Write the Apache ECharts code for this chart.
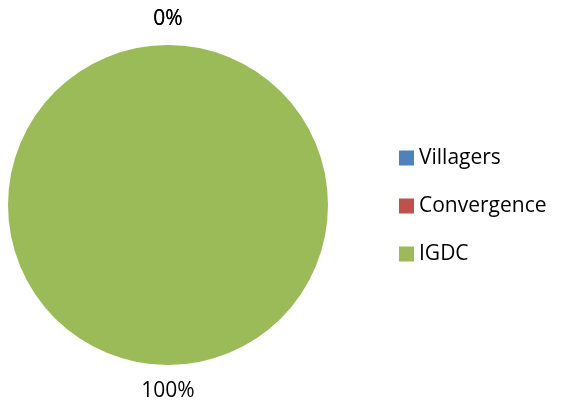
<!DOCTYPE html>
<html>
<head>
<meta charset="utf-8">
<script src="https://cdn.jsdelivr.net/npm/echarts@6/dist/echarts.min.js"></script>
<style>
  html, body { margin: 0; padding: 0; background: #fff; }
  #chart { width: 565px; height: 408px; }
</style>
</head>
<body>
<div id="chart"></div>
<script>
const categories = ["Villagers", "Convergence", "IGDC"];
const values = [0, 0, 100];
const colors = ["#4F81BD", "#C0504D", "#9BBB59"];

const chart = echarts.init(document.getElementById("chart"));
const option = {
  animation: false,
  color: colors,
  legend: {
    orient: "vertical",
    left: 394,
    top: 141,
    itemWidth: 15,
    itemHeight: 15,
    itemGap: 24,
    icon: "rect",
    textStyle: { fontFamily: "Open Sans", fontSize: 21, color: "#000", lineHeight: 24 },
    data: categories,
  },
  series: [
    {
      type: "pie",
      center: [168, 205],
      radius: 160,
      startAngle: 90,
      clockwise: true,
      avoidLabelOverlap: false,
      stillShowZeroSum: true,
      label: {
        show: true,
        position: "outside",
        formatter: "{d}%",
        fontFamily: "Open Sans",
        fontSize: 21,
        color: "#000",
        distanceToLabelLine: 0,
      },
      labelLine: { show: false, length: 26, length2: 0 },
      labelLayout: function (p) {
        return { x: p.labelRect.x + p.labelRect.width, align: "center" };
      },
      data: categories.map((name, i) => ({ name: name, value: values[i] })),
    },
  ],
};
chart.setOption(option);
</script>
</body>
</html>
